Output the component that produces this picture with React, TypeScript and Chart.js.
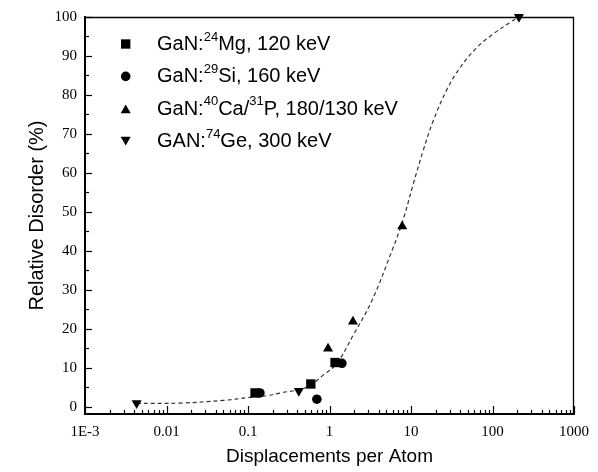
import React, { useEffect, useRef } from 'react';
import { Chart, registerables } from 'chart.js';

Chart.register(...registerables);

// ---- data ----
const mgX = [0.122, 0.59, 1.17];
const mgY = [3.6, 5.9, 11.4];
const siX = [0.14, 0.7, 1.42];
const siY = [3.6, 2.0, 11.2];
const caX = [0.96, 1.94, 7.8];
const caY = [15.0, 21.9, 46.3];
const geX = [0.0043, 0.42, 211];
const geY = [1.0, 4.1, 100];

// dashed fit curve
const fitX = [0.0043, 0.0147, 0.05, 0.1, 0.17, 0.25, 0.53, 0.83, 1.23, 1.94, 3.3, 6.0, 8.0, 10.6, 14.0, 18.6, 27.6, 40, 64.6, 101, 164, 211];
const fitY = [0.9, 1.0, 1.7, 2.4, 2.9, 3.6, 5.1, 8.1, 11.2, 18.3, 27.2, 40.7, 48.0, 57.0, 65.5, 73.2, 81.4, 87.0, 92.2, 95.6, 98.6, 100];

// ---- axes ----
const xMajorTicks = [0.001, 0.01, 0.1, 1, 10, 100, 1000];
const xTickLabels = ['1E-3', '0.01', '0.1', '1', '10', '100', '1000'];
const xMinorMultipliers = [2, 3, 4, 5, 6, 7, 8, 9];
const yMajorTicks = [0, 10, 20, 30, 40, 50, 60, 70, 80, 90, 100];
const yTickLabels = ['0', '10', '20', '30', '40', '50', '60', '70', '80', '90', '100'];
const yMinorTicks = [5, 15, 25, 35, 45, 55, 65, 75, 85, 95];

const xTitle = 'Displacements per Atom';
const yTitle = 'Relative Disorder (%)';

// legend labels with superscript parts
const legendLabels = [
  [{ t: 'GaN:' }, { t: '24', sup: true }, { t: 'Mg, 120 keV' }],
  [{ t: 'GaN:' }, { t: '29', sup: true }, { t: 'Si, 160 keV' }],
  [{ t: 'GaN:' }, { t: '40', sup: true }, { t: 'Ca/' }, { t: '31', sup: true }, { t: 'P, 180/130 keV' }],
  [{ t: 'GAN:' }, { t: '74', sup: true }, { t: 'Ge, 300 keV' }],
];

const SANS = "'Liberation Sans', Arial, Helvetica, sans-serif";
const SERIF = "'Liberation Serif', 'Times New Roman', Times, serif";

const xAllTicks: number[] = [];
xMajorTicks.forEach((m, i) => {
  xAllTicks.push(m);
  if (i < xMajorTicks.length - 1) xMinorMultipliers.forEach((k) => xAllTicks.push(+(m * k).toPrecision(6)));
});
const yAllTicks = [...yMajorTicks, ...yMinorTicks].sort((a, b) => a - b);

const pts = (xs: number[], ys: number[]) => xs.map((v, i) => ({ x: v, y: ys[i] }));

function drawMarker(ctx: CanvasRenderingContext2D, style: string, rot: number, r: number, cx: number, cy: number) {
  ctx.beginPath();
  if (style === 'rect') {
    const s = r * Math.SQRT1_2;
    ctx.rect(cx - s, cy - s, 2 * s, 2 * s);
  } else if (style === 'circle') {
    ctx.arc(cx, cy, r, 0, Math.PI * 2);
  } else {
    const w = r * Math.sin(Math.PI / 3);
    const h = 1.5 * r;
    if (rot === 180) {
      ctx.moveTo(cx - w, cy - h / 2);
      ctx.lineTo(cx + w, cy - h / 2);
      ctx.lineTo(cx, cy + h / 2);
    } else {
      ctx.moveTo(cx, cy - h / 2);
      ctx.lineTo(cx + w, cy + h / 2);
      ctx.lineTo(cx - w, cy + h / 2);
    }
    ctx.closePath();
  }
  ctx.fill();
}

const decorPlugin = {
  id: 'decor',
  afterDraw(chart: any) {
    const { ctx, chartArea: a, scales } = chart;
    const x = scales.x;
    const y = scales.y;
    ctx.save();
    ctx.strokeStyle = '#000';
    ctx.lineWidth = 1.2;
    // inner tick marks on bottom axis
    x.ticks.forEach((t: any) => {
      const px = Math.round(x.getPixelForValue(t.value)) + 0.5;
      const len = xMajorTicks.includes(t.value) ? 8 : 4;
      ctx.beginPath();
      ctx.moveTo(px, a.bottom);
      ctx.lineTo(px, a.bottom - len);
      ctx.stroke();
    });
    // inner tick marks on left axis
    y.ticks.forEach((t: any) => {
      const py = Math.round(y.getPixelForValue(t.value)) + 0.5;
      const len = yMajorTicks.includes(t.value) ? 7 : 4;
      ctx.beginPath();
      ctx.moveTo(a.left, py);
      ctx.lineTo(a.left + len, py);
      ctx.stroke();
    });
    // top and right frame
    ctx.lineWidth = 1.3;
    ctx.beginPath();
    ctx.moveTo(a.left, a.top + 0.5);
    ctx.lineTo(a.right - 0.5, a.top + 0.5);
    ctx.lineTo(a.right - 0.5, a.bottom);
    ctx.stroke();

    // legend
    const markerX = a.left + 40.7;
    const textX = a.left + 72;
    const firstBase = a.top + 33;
    const gap = 32.4;
    ctx.fillStyle = '#000';
    ctx.textBaseline = 'alphabetic';
    ctx.textAlign = 'left';
    legendLabels.forEach((parts, i) => {
      const ds = chart.data.datasets[i];
      const base = firstBase + i * gap;
      drawMarker(ctx, ds.pointStyle, ds.pointRotation || 0, ds.pointRadius, markerX, base - 6);
      let cx = textX;
      parts.forEach((p: any) => {
        if (p.sup) {
          ctx.font = `13px ${SANS}`;
          ctx.fillText(p.t, cx, base - 9.5);
        } else {
          ctx.font = `20px ${SANS}`;
          ctx.fillText(p.t, cx, base);
        }
        cx += ctx.measureText(p.t).width;
      });
    });
    ctx.restore();
  },
};

export default function App() {
  const ref = useRef<HTMLCanvasElement | null>(null);

  useEffect(() => {
    if (!ref.current) return;
    const black = '#000';
    const markerBase = {
      backgroundColor: black,
      borderColor: black,
      pointBackgroundColor: black,
      pointBorderColor: black,
      pointBorderWidth: 0,
      showLine: false,
      clip: false as any,
    };
    const chart = new Chart(ref.current, {
      type: 'scatter',
      data: {
        datasets: [
          { ...markerBase, label: 'GaN:24Mg, 120 keV', data: pts(mgX, mgY), pointStyle: 'rect', pointRadius: 6.6 },
          { ...markerBase, label: 'GaN:29Si, 160 keV', data: pts(siX, siY), pointStyle: 'circle', pointRadius: 4.8 },
          { ...markerBase, label: 'GaN:40Ca/31P, 180/130 keV', data: pts(caX, caY), pointStyle: 'triangle', pointRadius: 5.8 },
          { ...markerBase, label: 'GAN:74Ge, 300 keV', data: pts(geX, geY), pointStyle: 'triangle', pointRotation: 180, pointRadius: 5.8 },
          {
            label: 'fit',
            data: pts(fitX, fitY),
            showLine: true,
            pointRadius: 0,
            borderColor: '#333',
            borderWidth: 1.2,
            borderDash: [4, 3],
            tension: 0.4,
            fill: false,
          } as any,
        ],
      },
      options: {
        animation: false,
        responsive: false,
        events: [],
        layout: { padding: { top: 14, right: 24, left: 0, bottom: 0 } },
        plugins: { legend: { display: false }, tooltip: { enabled: false } },
        scales: {
          x: {
            type: 'logarithmic',
            position: 'bottom',
            min: 0.001,
            max: 1000,
            afterBuildTicks: (s: any) => {
              s.ticks = xAllTicks.map((v) => ({ value: v }));
            },
            afterFit: (s: any) => {
              s.height = 58;
            },
            ticks: {
              autoSkip: false,
              maxRotation: 0,
              minRotation: 0,
              padding: 9,
              color: black,
              font: { family: SERIF, size: 15 },
              callback: (v: any) => {
                const i = xMajorTicks.indexOf(v);
                return i >= 0 ? xTickLabels[i] : '';
              },
            },
            grid: { display: false, drawTicks: false },
            border: { display: true, color: black, width: 2 },
            title: {
              display: true,
              text: xTitle,
              color: black,
              font: { family: SANS, size: 19 },
              padding: { top: 0, bottom: 3.6 },
            },
          },
          y: {
            type: 'linear',
            min: -1.8,
            max: 100,
            afterBuildTicks: (s: any) => {
              s.ticks = yAllTicks.map((v) => ({ value: v }));
            },
            afterFit: (s: any) => {
              s.width = 85;
            },
            ticks: {
              autoSkip: false,
              padding: 8,
              color: black,
              font: { family: SERIF, size: 15 },
              callback: (v: any) => {
                const i = yMajorTicks.indexOf(v);
                return i >= 0 ? yTickLabels[i] : '';
              },
            },
            grid: { display: false, drawTicks: false },
            border: { display: true, color: black, width: 2 },
            title: {
              display: true,
              text: yTitle,
              color: black,
              font: { family: SANS, size: 20 },
              padding: { top: 25, bottom: 0 },
            },
          },
        },
      } as any,
      plugins: [decorPlugin],
    });
    return () => chart.destroy();
  }, []);

  return (
    <div style={{ position: 'absolute', left: 0, top: 0, width: 598, height: 472, background: '#fff' }}>
      <canvas ref={ref} width={598} height={472} style={{ display: 'block' }} />
    </div>
  );
}
